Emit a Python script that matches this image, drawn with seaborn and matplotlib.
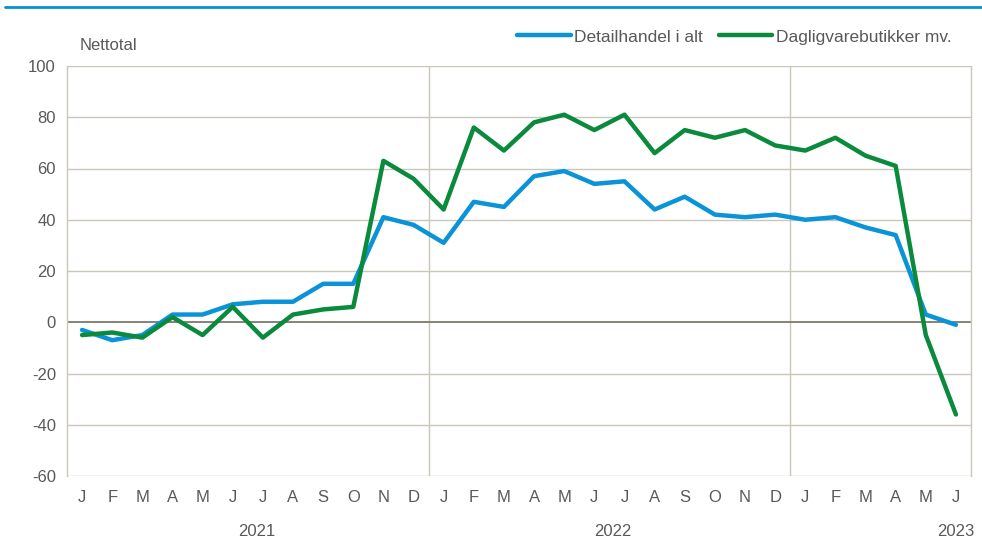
import matplotlib
matplotlib.use("Agg")
import matplotlib.pyplot as plt
import matplotlib.transforms as mtransforms
from matplotlib.lines import Line2D
import numpy as np
import pandas as pd
import seaborn as sns

# data: monthly net balance Jan 2021 - Jun 2023
months = ["J", "F", "M", "A", "M", "J", "J", "A", "S", "O", "N", "D"] * 2 + ["J", "F", "M", "A", "M", "J"]
years = ["2021", "2022", "2023"]
detail = [-3, -7, -5, 3, 3, 7, 8, 8, 15, 15, 41, 38,
          31, 47, 45, 57, 59, 54, 55, 44, 49, 42, 41, 42,
          40, 41, 37, 34, 3, -1]
dagligvare = [-5, -4, -6, 2, -5, 6, -6, 3, 5, 6, 63, 56,
              44, 76, 67, 78, 81, 75, 81, 66, 75, 72, 75, 69,
              67, 72, 65, 61, -5, -36]
series_names = ["Detailhandel i alt", "Dagligvarebutikker mv."]
colors = ["#0a93d6", "#0a8a3c"]

df = pd.DataFrame({
    "idx": list(range(len(detail))) * 2,
    "val": detail + dagligvare,
    "serie": [series_names[0]] * len(detail) + [series_names[1]] * len(dagligvare),
})

sns.set_style("white")
plt.rcParams["font.family"] = ["Liberation Sans Narrow", "Liberation Sans", "DejaVu Sans"]
plt.rcParams["axes.unicode_minus"] = False
txt = "#595959"
grid_c = "#c9c6ba"

fig = plt.figure(figsize=(9.82, 5.40), dpi=100)
ax = fig.add_axes([67 / 982, 64 / 540, 904 / 982, 410 / 540])

sns.lineplot(data=df, x="idx", y="val", hue="serie", palette=colors,
             linewidth=3.2, ax=ax, legend=False, zorder=3)

ax.set_xlim(-0.5, len(detail) - 0.5)
ax.set_ylim(-60, 100)
ax.set_yticks(range(-60, 101, 20))
for v in range(-60, 101, 20):
    if v == 0:
        ax.axhline(v, color="#7d786c", lw=1.3, zorder=2)
    else:
        ax.axhline(v, color=grid_c, lw=1.0, zorder=1)
for xv in [11.5, 23.5]:
    ax.axvline(xv, color=grid_c, lw=1.0, zorder=1)

for s in ["top", "bottom"]:
    ax.spines[s].set_visible(False)
for s in ["left", "right"]:
    ax.spines[s].set_color(grid_c)
    ax.spines[s].set_linewidth(1.0)

ax.set_xticks(range(len(months)))
ax.set_xticklabels(months)
ax.tick_params(axis="both", length=0, labelsize=12, colors=txt, pad=10)
ax.tick_params(axis="y", pad=8)
ax.set_xlabel("")
ax.set_ylabel("")

trans = mtransforms.blended_transform_factory(ax.transData, ax.transAxes)
ax.text(5.8, -0.135, years[0], transform=trans, ha="center", va="center", fontsize=12, color=txt)
ax.text(17.6, -0.135, years[1], transform=trans, ha="center", va="center", fontsize=12, color=txt)
ax.text(29.0, -0.135, years[2], transform=trans, ha="center", va="center", fontsize=12, color=txt)

fig.text(80 / 982, 1 - 45 / 540, "Nettotal", fontsize=12, color=txt, va="center", ha="left")

# top rule
fig.add_artist(Line2D([5 / 982, 1.0], [1 - 7 / 540, 1 - 7 / 540], color="#0a8fd0", lw=2))

handles = [Line2D([0], [0], color=c, lw=3.2) for c in colors]
fig.legend(handles, series_names, loc="center right", bbox_to_anchor=(0.985, 1 - 37 / 540),
           ncol=2, frameon=False, fontsize=12.5, labelcolor=txt, handlelength=3.1,
           handletextpad=0.2, columnspacing=0.9)

fig.savefig("out.png", dpi=100)
